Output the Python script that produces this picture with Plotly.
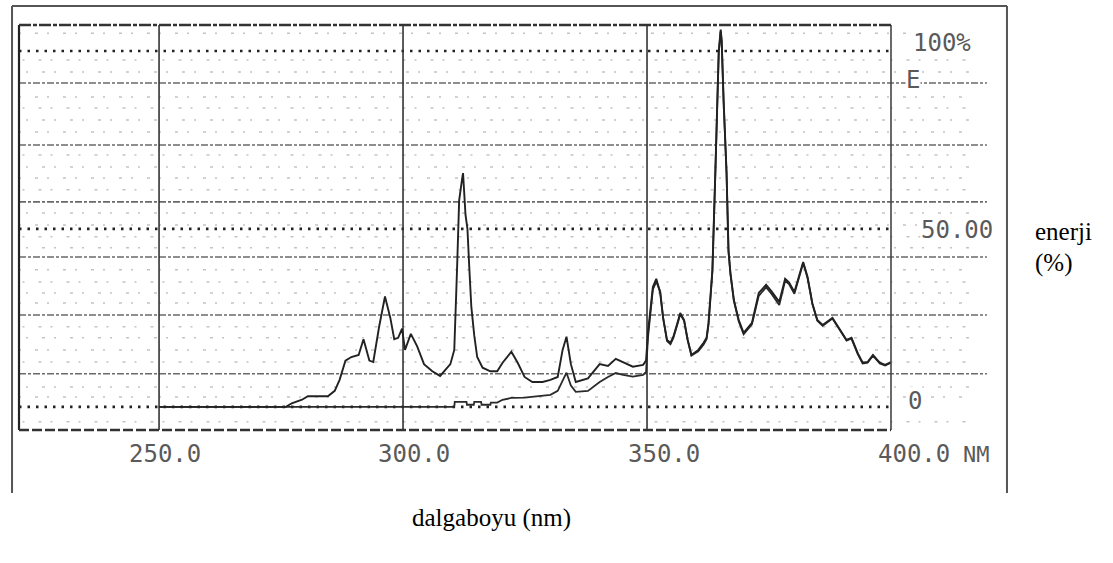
import plotly.graph_objects as go

# ---------------- data ----------------
upper_nm = [250, 276.0, 277.2, 279.3, 280.5, 284.6, 286.0, 287.0, 288.2, 289.4, 290.9, 291.9,
            293.1, 293.9, 295.1, 296.3, 297.4, 298.2, 299.0, 299.8, 300.4, 301.6, 302.9, 304.3,
            306.0, 307.6, 309.7, 310.5, 311.1, 311.5, 312.1, 312.3, 312.8, 313.2, 313.6, 314.0,
            314.6, 315.2, 316.3, 317.9, 319.3, 320.4, 322.2, 323.5, 324.9, 326.5, 328.6, 330.2,
            331.7, 332.7, 333.5, 334.4, 335.4, 337.9, 340.3, 342.0, 343.6, 345.1, 347.1, 349.2,
            349.8,
            350.2, 351.2, 351.9, 352.7, 353.3, 354.1, 354.8, 355.4, 356.4, 356.8,
            357.6, 358.3, 359.1, 360.5, 361.6, 362.2, 362.6, 363.0, 363.4, 364.0,
            364.4, 364.7, 365.1, 365.3, 365.7, 366.3, 366.7, 367.1, 367.8, 368.8,
            369.8, 371.5, 372.9, 374.4, 375.6, 377.1, 378.3, 379.1, 380.2, 381.2,
            382.0, 382.9, 383.9, 384.9, 386.0, 388.0, 389.5, 390.9, 391.9, 393.2,
            394.2, 395.2, 396.3, 397.7, 398.8, 400]
upper_pct = [0, 0, 1, 2, 3, 3, 4.5, 7.6, 13, 14, 14.6, 19,
             13, 12.6, 22.5, 31, 25, 19, 19.4, 22, 16, 20.5, 17, 12,
             10, 8.7, 12, 16, 40, 58, 64, 65.7, 54, 50, 38.5, 28,
             20, 14, 11, 10, 10, 12.4, 15.5, 12.4, 8.4, 7, 7, 7.6,
             8.4, 16, 19.7, 12, 7, 8, 12, 11.5, 13.5, 12.5, 11.3, 11.8,
             13,
             21, 33.7, 36, 32, 25, 18.8, 18, 19.7, 24.4, 26.4,
             24.4, 19, 14.6, 16, 18, 19.4, 23.6, 30, 38.5, 66,
             86, 100, 106, 103, 86, 66, 44, 37.6, 30, 24.4,
             20.8, 23.6, 32, 34.3, 32.3, 29.5, 36, 35, 32.3, 37,
             40.7, 36.5, 29, 24.4, 23, 25, 21.6, 18.8, 19.4, 15,
             12.4, 12.6, 14.6, 12.4, 11.8, 12.6]

lower_nm = [250, 310.5, 310.6, 313.0, 313.1, 314.5, 314.6, 316.0, 316.1, 317.9, 318.0, 319.3,
            320.4, 322.2, 324.9, 326.5, 328.6, 330.2, 331.7, 332.7, 333.5, 334.4, 335.4, 337.9,
            340.3, 342.0, 343.6, 345.1, 347.1, 349.2, 349.8,
            350.2, 351.2, 351.9, 352.7, 353.3, 354.1, 354.8, 355.4, 356.4, 356.8,
            357.6, 358.3, 359.1, 360.5, 361.6, 362.2, 362.6, 363.0, 363.4, 364.0,
            364.4, 364.7, 365.1, 365.3, 365.7, 366.3, 366.7, 367.1, 367.8, 368.8,
            369.8, 371.5, 372.9, 374.4, 375.6, 377.1, 378.3, 379.1, 380.2, 381.2,
            382.0, 382.9, 383.9, 384.9, 386.0, 388.0, 389.5, 390.9, 391.9, 393.2,
            394.2, 395.2, 396.3, 397.7, 398.8, 400]
lower_pct = [0, 0, 1.4, 1.4, 0.6, 0.6, 1.4, 1.4, 0.6, 0.6, 1.2, 1.2,
             2.0, 2.5, 2.6, 2.8, 3.0, 3.4, 4.5, 7.5, 9.6, 6.0, 4.2, 4.5,
             7.0, 8.4, 9.5, 9.0, 8.5, 9.0, 9.8,
             19.5, 33.0, 35.2, 32.5, 25.0, 18.5, 17.6, 19.4, 24.0, 26.0,
             24.2, 19.0, 14.4, 15.6, 17.5, 19.0, 23.0, 29.5, 38.0, 65.5,
             85.5, 99.5, 105.5, 102.5, 85.5, 65.5, 43.5, 37.2, 29.8, 24.0,
             20.4, 23.2, 31.2, 33.6, 31.6, 28.6, 35.4, 34.5, 31.8, 36.6,
             40.4, 36.2, 28.8, 24.2, 22.8, 24.8, 21.4, 18.6, 19.2, 14.8,
             12.2, 12.4, 14.4, 12.2, 11.6, 12.4]

assert len(upper_nm) == len(upper_pct)
assert len(lower_nm) == len(lower_pct)

x_tick_values = [250, 300, 350, 400]
x_tick_text = ["250.0", "300.0", "350.0", "400.0"]
x_unit = "NM"
right_labels = ["100%", "E", "50.00", "0"]
y_title = ["enerji", "(%)"]
x_title = "dalgaboyu (nm)"

# ---------------- layout constants ----------------
XMIN, XMAX = 221.3, 400
YMIN, YMAX = -6.5, 107.3

def yp(v):
    return (v - YMIN) / (YMAX - YMIN)

bold_dot_rows = [0, 50, 100]
dash_rows = [91.0, 73.6, 57.6, 42.1, 25.8, 9.3]
faint_rows = [105, 97.5, 94.1, 87.1, 84, 80.6, 77.2, 70.8, 67.4, 64.3, 61, 54.5,
              51.1, 47.8, 44.7, 38.5, 35.1, 32, 29.2, 22.5, 19.4, 16, 12.6, 5.6, 2.8, -4.2]

shapes = []
for i, v in enumerate(faint_rows):
    shapes.append(dict(type="line", xref="paper", yref="paper", x0=0.004 * (i % 3), x1=1.09,
                       y0=yp(v), y1=yp(v),
                       line=dict(color="#c4c4c4", width=1.5, dash="2px,14px,3px,9px"), layer="below"))
for v in dash_rows:
    shapes.append(dict(type="line", xref="paper", yref="paper", x0=0, x1=1.11, y0=yp(v), y1=yp(v),
                       line=dict(color="#6a6a6a", width=1.6, dash="7px,2px,3px,2px"), layer="below"))
for v in bold_dot_rows:
    shapes.append(dict(type="line", xref="paper", yref="paper", x0=0, x1=1, y0=yp(v), y1=yp(v),
                       line=dict(color="#222222", width=2.6, dash="2.5px,6px"), layer="below"))
for v in x_tick_values[:-1]:
    shapes.append(dict(type="line", xref="x", yref="paper", x0=v, x1=v, y0=0, y1=1,
                       line=dict(color="#333333", width=1.6), layer="below"))

# inner plot frame
shapes += [
    dict(type="line", xref="paper", yref="paper", x0=0, x1=0, y0=0, y1=1,
         line=dict(color="#222222", width=2.2)),
    dict(type="line", xref="paper", yref="paper", x0=1, x1=1, y0=0, y1=1,
         line=dict(color="#444444", width=1.6)),
    dict(type="line", xref="paper", yref="paper", x0=0, x1=1, y0=1, y1=1,
         line=dict(color="#333333", width=2.6, dash="12px,2px,4px,2px")),
    dict(type="line", xref="paper", yref="paper", x0=0, x1=1, y0=0, y1=0,
         line=dict(color="#333333", width=2.6, dash="10px,3px")),
]
# outer frame (open at the bottom)
OL, OR, OT, OB = -0.0080, 1.1330, 1.0469, -0.1556
shapes += [
    dict(type="line", xref="paper", yref="paper", x0=OL, x1=OL, y0=OB, y1=OT,
         line=dict(color="#555555", width=2)),
    dict(type="line", xref="paper", yref="paper", x0=OR, x1=OR, y0=OB, y1=OT,
         line=dict(color="#555555", width=2)),
    dict(type="line", xref="paper", yref="paper", x0=OL, x1=OR, y0=OT, y1=OT,
         line=dict(color="#555555", width=2.2)),
]

mono = dict(family="DejaVu Sans Mono", size=24, color="#5a5a5a")
serif = dict(family="Liberation Serif", size=25, color="#000000")

annotations = []
tick_shift = [6, 11, 17, 23]
for v, t, s in zip(x_tick_values, x_tick_text, tick_shift):
    annotations.append(dict(x=v, y=-0.0593, xref="x", yref="paper", text=t, showarrow=False,
                            xanchor="center", yanchor="middle", xshift=s, font=mono))
annotations.append(dict(x=1.0975, y=-0.0593, xref="paper", yref="paper", text=x_unit,
                        showarrow=False, xanchor="center", yanchor="middle",
                        font=dict(family="DejaVu Sans Mono", size=22, color="#5a5a5a")))
right_pos = [(1.0585, 0.9556), (1.0252, 0.8642), (1.0757, 0.4938), (1.0275, 0.0716)]
for t, (px, py) in zip(right_labels, right_pos):
    annotations.append(dict(x=px, y=py, xref="paper", yref="paper", text=t, showarrow=False,
                            xanchor="center", yanchor="middle", font=mono,
                            bgcolor="white", borderpad=0))
annotations.append(dict(x=1.1628, y=0.4889, xref="paper", yref="paper", text=y_title[0],
                        showarrow=False, xanchor="left", yanchor="middle", font=serif))
annotations.append(dict(x=1.1628, y=0.4123, xref="paper", yref="paper", text=y_title[1],
                        showarrow=False, xanchor="left", yanchor="middle", font=serif))
annotations.append(dict(x=0.5424, y=-0.2173, xref="paper", yref="paper", text=x_title,
                        showarrow=False, xanchor="center", yanchor="middle", font=serif))

fig = go.Figure()
fig.add_trace(go.Scatter(x=lower_nm, y=lower_pct, mode="lines",
                         line=dict(color="#2a2a2a", width=1.8), hoverinfo="skip", showlegend=False))
fig.add_trace(go.Scatter(x=upper_nm, y=upper_pct, mode="lines",
                         line=dict(color="#222222", width=1.9), hoverinfo="skip", showlegend=False))

fig.update_layout(
    width=1113, height=563,
    margin=dict(l=19, r=222, t=25, b=133),
    paper_bgcolor="white", plot_bgcolor="white",
    xaxis=dict(range=[XMIN, XMAX], showgrid=False, zeroline=False, showticklabels=False,
               showline=False, ticks=""),
    yaxis=dict(range=[YMIN, YMAX], showgrid=False, zeroline=False, showticklabels=False,
               showline=False, ticks=""),
    shapes=shapes,
    annotations=annotations,
)

fig.write_html("out.html")
